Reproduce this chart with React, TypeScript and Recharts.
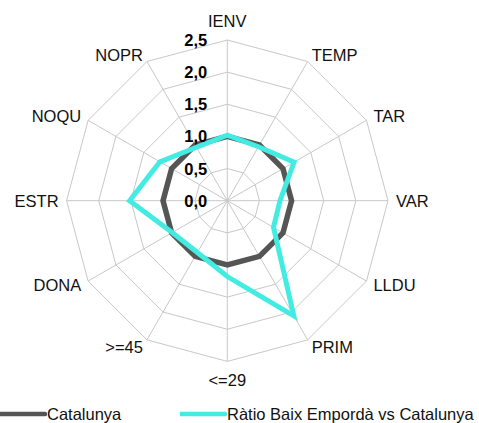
import React from "react";
import {
  RadarChart,
  Radar,
  PolarGrid,
  PolarAngleAxis,
  PolarRadiusAxis,
  Legend,
} from "recharts";

document.body.style.margin = "0";

const axes = ["IENV", "TEMP", "TAR", "VAR", "LLDU", "PRIM", "<=29", ">=45", "DONA", "ESTR", "NOQU", "NOPR"];
const catalunya = [1, 1, 1, 1, 1, 1, 1, 1, 1, 1, 1, 1];
const baixEmporda = [1.02, 0.97, 1.2, 0.82, 0.83, 2.07, 1.18, 0.93, 0.99, 1.52, 1.21, 0.96];
const radiusTicks = [0, 0.5, 1, 1.5, 2, 2.5];

const seriesNames = ["Catalunya", "Ràtio Baix Empordà vs Catalunya"];
const DARK = "#555555";
const CYAN = "#43ECE3";
const FONT = "'Liberation Sans', Arial, sans-serif";

const data = axes.map((axis, i) => ({
  axis,
  catalunya: catalunya[i],
  baix: baixEmporda[i],
}));

// tiny linear scale so recharts doesn't "nice" the 0..2,5 domain up to 3
function linearScale(d: number[] = [0, 1], r: number[] = [0, 1]): any {
  let dom = d.slice();
  let rng = r.slice();
  const s: any = (v: number) => rng[0] + ((v - dom[0]) / (dom[1] - dom[0])) * (rng[1] - rng[0]);
  s.domain = (x?: number[]) => {
    if (x === undefined) return dom;
    dom = [Number(x[0]), Number(x[x.length - 1])];
    return s;
  };
  s.range = (x?: number[]) => {
    if (x === undefined) return rng;
    rng = [Number(x[0]), Number(x[x.length - 1])];
    return s;
  };
  s.copy = () => linearScale(dom, rng);
  s.ticks = () => radiusTicks;
  s.tickFormat = () => (v: number) => String(v);
  return s;
}

const AngleTick = (props: any) => {
  const { x, y, payload } = props;
  const rad = (payload.coordinate * Math.PI) / 180;
  const cos = Math.cos(rad);
  const sin = Math.sin(rad);
  let anchor = "middle";
  if (cos > 0.01) anchor = "start";
  if (cos < -0.01) anchor = "end";
  let dy = 0;
  if (Math.abs(cos) <= 0.01) dy = sin > 0 ? -11 : 11;
  return (
    <text
      x={x}
      y={y + dy}
      textAnchor={anchor}
      dominantBaseline="central"
      fontFamily={FONT}
      fontSize={16.5}
      fill="#111"
    >
      {payload.value}
    </text>
  );
};

const RadiusTick = (props: any) => {
  const { x, y, payload } = props;
  return (
    <text
      x={x - 20}
      y={y}
      textAnchor="end"
      dominantBaseline="central"
      fontFamily={FONT}
      fontSize={16.5}
      fontWeight="bold"
      fill="#000"
    >
      {Number(payload.value).toFixed(1).replace(".", ",")}
    </text>
  );
};

const LegendContent = () => (
  <div style={{ position: "relative", height: 18, fontFamily: FONT, fontSize: 16.5, lineHeight: "18px", color: "#111" }}>
    {[DARK, CYAN].map((c, i) => (
      <div
        key={i}
        style={{ position: "absolute", left: i === 0 ? 0 : 180, top: 0, height: 18, display: "flex", alignItems: "center" }}
      >
        <svg width={47} height={18} style={{ display: "block" }}>
          <line x1={0} y1={9} x2={45} y2={9} stroke={c} strokeWidth={4.5} strokeLinecap="round" />
        </svg>
        <span>{seriesNames[i]}</span>
      </div>
    ))}
  </div>
);

export default function App() {
  return (
    <RadarChart
      width={479}
      height={423}
      data={data}
      cx={227.3}
      cy={200.7}
      outerRadius={160.7}
      margin={{ top: 0, right: 0, bottom: 0, left: 0 }}
    >
      <PolarGrid gridType="polygon" stroke="#c8c8c8" strokeWidth={1} />
      <PolarAngleAxis dataKey="axis" tick={<AngleTick />} tickLine={false} axisLine={false} />
      <Radar
        name={seriesNames[0]}
        dataKey="catalunya"
        stroke={DARK}
        strokeWidth={5.5}
        fill="none"
        fillOpacity={0}
        dot={false}
        isAnimationActive={false}
      />
      <Radar
        name={seriesNames[1]}
        dataKey="baix"
        stroke={CYAN}
        strokeWidth={5}
        fill="none"
        fillOpacity={0}
        dot={false}
        isAnimationActive={false}
      />
      <PolarRadiusAxis
        type="number"
        scale={linearScale()}
        angle={90}
        domain={[0, 2.5]}
        allowDataOverflow
        ticks={radiusTicks as any}
        tick={<RadiusTick />}
        tickLine={false}
        axisLine={false}
      />
      <Legend
        content={<LegendContent />}
        wrapperStyle={{ position: "absolute", left: 0, top: 405, width: 479 }}
      />
    </RadarChart>
  );
}
